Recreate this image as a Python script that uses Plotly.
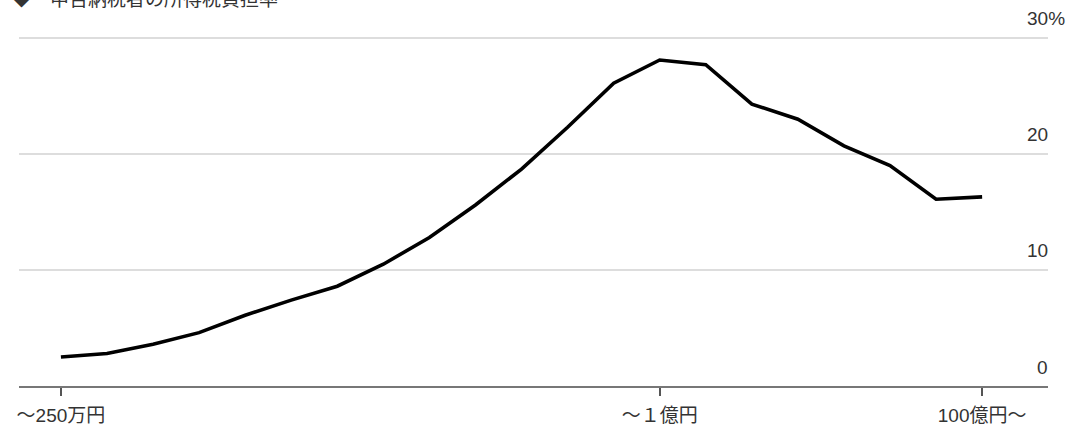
import plotly.graph_objects as go

categories = ["～250万円", "～300万円", "～400万円", "～500万円", "～600万円", "～700万円",
              "～800万円", "～1000万円", "～1200万円", "～1500万円", "～2000万円", "～3000万円",
              "～5000万円", "～１億円", "～2億円", "～5億円", "～10億円", "～20億円",
              "～50億円", "～100億円", "100億円～"]
burden_rate = [2.5, 2.8, 3.6, 4.6, 6.1, 7.4, 8.6, 10.5, 12.8, 15.6, 18.7, 22.3,
               26.1, 28.1, 27.7, 24.3, 23.0, 20.7, 19.0, 16.1, 16.3]
tick_cats = ["～250万円", "～１億円", "100億円～"]
y_ticks = [0, 10, 20, 30]
title_text = "◆　申告納税者の所得税負担率"

FONT = "Liberation Sans, Arial, Noto Sans CJK JP, sans-serif"
TXT = "#333333"

fig = go.Figure()
fig.add_trace(go.Scatter(
    x=categories, y=burden_rate, mode="lines",
    line=dict(color="#000000", width=3.6),
    hoverinfo="skip", showlegend=False,
))

fig.update_layout(
    width=1071, height=425,
    margin=dict(l=19, r=23, t=36, b=39, autoexpand=False),
    paper_bgcolor="white", plot_bgcolor="white",
    font=dict(family=FONT, size=19, color=TXT),
    xaxis=dict(
        type="category", categoryorder="array", categoryarray=categories,
        range=[-0.91, 21.43], automargin=False,
        tickmode="array", tickvals=tick_cats, ticktext=tick_cats,
        ticks="outside", ticklen=8, tickwidth=1.5, tickcolor="#555555",
        showline=True, linecolor="#777777", linewidth=2,
        showgrid=False, zeroline=False,
        tickfont=dict(family=FONT, size=19, color=TXT),
        ticklabelstandoff=3,
    ),
    yaxis=dict(
        range=[0, 30.17], tickmode="array", tickvals=y_ticks[1:], automargin=False,
        showticklabels=False, showgrid=True, gridcolor="#dddddd", gridwidth=1.5,
        zeroline=False, showline=False, ticks="",
    ),
)

for v in y_ticks:
    label = f"{v}%" if v == 30 else str(v)
    fig.add_annotation(
        xref="paper", yref="y", x=1, y=v, text=label,
        xanchor="right", yanchor="middle", xshift=(19 if v == 30 else 2), yshift=19,
        showarrow=False, font=dict(family=FONT, size=19, color=TXT),
    )
fig.add_annotation(
    xref="paper", yref="paper", x=0, y=1, text=title_text,
    xanchor="left", yanchor="bottom", xshift=-9, yshift=24,
    showarrow=False, font=dict(family=FONT, size=19, color=TXT),
)

fig.write_html("out.html")
